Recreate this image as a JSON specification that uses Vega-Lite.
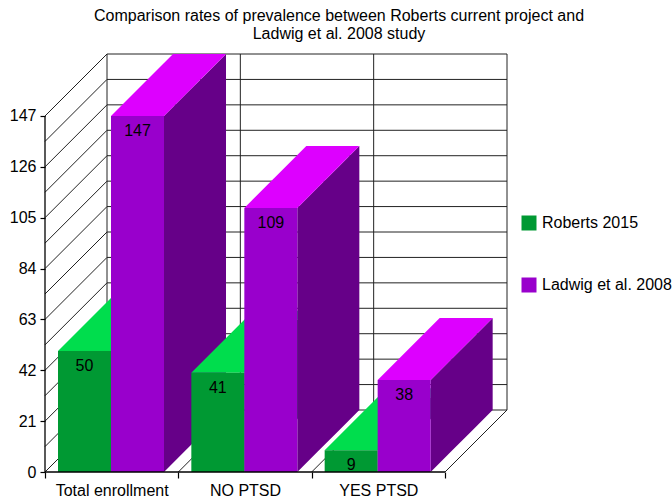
{
"$schema":"https://vega.github.io/schema/vega-lite/v6.json",
"width":462,"height":418,
"autosize":{"type":"none"},
"padding":{"left":45,"top":54,"right":165,"bottom":30},
"background":"white",
"config":{"view":{"stroke":null},"font":"Liberation Sans"},
"title":{"text":["Comparison rates of prevalence between Roberts current project and","Ladwig et al. 2008 study"],"font":"Liberation Sans","fontSize":16,"fontWeight":"normal","color":"#000000","anchor":"middle","frame":"group","dx":63,"lineHeight":18,"offset":12},
"datasets":{
"bars":[
{"category":"Total enrollment","series":"Roberts 2015","value":50},
{"category":"Total enrollment","series":"Ladwig et al. 2008","value":147},
{"category":"NO PTSD","series":"Roberts 2015","value":41},
{"category":"NO PTSD","series":"Ladwig et al. 2008","value":109},
{"category":"YES PTSD","series":"Roberts 2015","value":9},
{"category":"YES PTSD","series":"Ladwig et al. 2008","value":38}
],
"levels":[{"level":0},{"level":10.5},{"level":21},{"level":31.5},{"level":42},{"level":52.5},{"level":63},{"level":73.5},{"level":84},{"level":94.5},{"level":105},{"level":115.5},{"level":126},{"level":136.5},{"level":147}],
"slots":[{"slot":0},{"slot":1},{"slot":2},{"slot":3}]
},
"layer":[
{"data":{"name":"levels"},
"transform":[{"calculate":"datum.level+25.6","as":"wallY"}],
"mark":{"type":"rule","color":"#222222","strokeWidth":1},
"encoding":{
"x":{"datum":0,"type":"quantitative","scale":{"domain":[0,3.465],"nice":false,"zero":false},
"axis":{"title":null,"orient":"bottom","values":[0,1,2,3],"grid":false,"domain":false,"tickColor":"#000000","tickSize":6,"tickWidth":1.2,"labelFont":"Liberation Sans","labelFontSize":16,"labelColor":"#000000","labelPadding":4,"labelOffset":66.67,"labelAngle":0,"labelAlign":"center","labelFlush":false,"labelBound":false,"labelOverlap":false,"labelExpr":"['Total enrollment','NO PTSD','YES PTSD',''][datum.value]"}},
"x2":{"datum":0.465},
"y":{"field":"level","type":"quantitative","scale":{"domain":[0,172.6],"nice":false,"zero":false},
"axis":{"title":null,"values":[0,10.5,21,31.5,42,52.5,63,73.5,84,94.5,105,115.5,126,136.5,147],"grid":false,"domain":false,"tickColor":"#000000","tickSize":5,"tickWidth":1.2,"labelFont":"Liberation Sans","labelFontSize":16,"labelColor":"#000000","labelPadding":4,"labelOverlap":false,"labelExpr":"datum.value % 21 === 0 ? datum.label : ''"}},
"y2":{"field":"wallY"}
}},
{"data":{"name":"levels"},
"transform":[{"calculate":"datum.level+25.6","as":"wallY"}],
"mark":{"type":"rule","color":"#222222","strokeWidth":1},
"encoding":{
"x":{"datum":0.465,"type":"quantitative","scale":{"domain":[0,3.465],"nice":false,"zero":false}},
"x2":{"datum":3.465},
"y":{"field":"wallY","type":"quantitative","scale":{"domain":[0,172.6],"nice":false,"zero":false}}
}},
{"data":{"name":"slots"},
"transform":[{"calculate":"datum.slot+0.465","as":"backX"}],
"mark":{"type":"rule","color":"#222222","strokeWidth":1},
"encoding":{
"x":{"field":"backX","type":"quantitative","scale":{"domain":[0,3.465],"nice":false,"zero":false}},
"y":{"datum":25.6,"type":"quantitative","scale":{"domain":[0,172.6],"nice":false,"zero":false}},
"y2":{"datum":172.6}
}},
{"data":{"name":"slots"},
"transform":[{"calculate":"datum.slot+0.465","as":"backX"}],
"mark":{"type":"rule","color":"#222222","strokeWidth":1},
"encoding":{
"x":{"field":"slot","type":"quantitative","scale":{"domain":[0,3.465],"nice":false,"zero":false}},
"x2":{"field":"backX"},
"y":{"datum":0,"type":"quantitative","scale":{"domain":[0,172.6],"nice":false,"zero":false}},
"y2":{"datum":25.6}
}},
{"data":{"name":"bars"},
"transform":[
{"calculate":"indexof(['Total enrollment','NO PTSD','YES PTSD'],datum.category)+0.0975+(datum.series==='Roberts 2015'?0:0.3975)","as":"left"},
{"calculate":"['side','top','front']","as":"face"},
{"flatten":["face"]},
{"calculate":"[0,1,2,3]","as":"pt"},
{"flatten":["pt"]},
{"calculate":"datum.face==='front'?datum.left+0.3975*datum.pt/3:datum.face==='side'?datum.left+0.3975+0.465*datum.pt/3:datum.left+[0,0.3975,0.465,0.8625][datum.pt]","as":"px"},
{"calculate":"datum.face==='front'?0:datum.face==='side'?25.6*datum.pt/3:datum.value+[0,0,3.716,25.6][datum.pt]","as":"low"},
{"calculate":"datum.face==='front'?datum.value:datum.face==='side'?datum.value+25.6*datum.pt/3:datum.value+[0,21.884,25.6,25.6][datum.pt]","as":"high"},
{"calculate":"datum.face==='front'?datum.series:datum.series+' '+datum.face","as":"shade"},
{"calculate":"datum.category+'|'+datum.series+'|'+datum.face","as":"key"}
],
"mark":{"type":"area","interpolate":"linear","opacity":1,"line":false},
"encoding":{
"x":{"field":"px","type":"quantitative","scale":{"domain":[0,3.465],"nice":false,"zero":false}},
"y":{"field":"high","type":"quantitative","stack":null,"scale":{"domain":[0,172.6],"nice":false,"zero":false}},
"y2":{"field":"low"},
"detail":{"field":"key"},
"color":{"field":"shade","type":"nominal",
"scale":{"domain":["Roberts 2015","Ladwig et al. 2008","Roberts 2015 top","Ladwig et al. 2008 top","Roberts 2015 side","Ladwig et al. 2008 side"],"range":["#009933","#9900CC","#00DD4D","#DD00FF","#006622","#660088"]},
"legend":{"values":["Roberts 2015","Ladwig et al. 2008"],"title":null,"orient":"none","legendX":476,"legendY":161,"symbolType":"square","symbolSize":225,"symbolStrokeWidth":0,"labelFont":"Liberation Sans","labelFontSize":16,"labelColor":"#000000","labelLimit":200,"labelOffset":5,"rowPadding":46,"padding":0}}
}},
{"data":{"name":"bars"},
"transform":[
{"calculate":"indexof(['Total enrollment','NO PTSD','YES PTSD'],datum.category)+0.0975+(datum.series==='Roberts 2015'?0:0.3975)+0.19875","as":"mid"}
],
"mark":{"type":"text","font":"Liberation Sans","fontSize":16,"color":"#000000","baseline":"middle","align":"center","dy":15},
"encoding":{
"x":{"field":"mid","type":"quantitative","scale":{"domain":[0,3.465],"nice":false,"zero":false}},
"y":{"field":"value","type":"quantitative","scale":{"domain":[0,172.6],"nice":false,"zero":false}},
"text":{"field":"value","type":"quantitative"}
}},
{"mark":{"type":"rule","color":"#000000","strokeWidth":1.3},
"data":{"values":[{"axis":"y"}]},
"encoding":{
"x":{"datum":0,"type":"quantitative","scale":{"domain":[0,3.465],"nice":false,"zero":false}},
"y":{"datum":0,"type":"quantitative","scale":{"domain":[0,172.6],"nice":false,"zero":false}},
"y2":{"datum":147}
}},
{"mark":{"type":"rule","color":"#000000","strokeWidth":1.3},
"data":{"values":[{"axis":"x"}]},
"encoding":{
"x":{"datum":0,"type":"quantitative","scale":{"domain":[0,3.465],"nice":false,"zero":false}},
"x2":{"datum":3},
"y":{"datum":0,"type":"quantitative","scale":{"domain":[0,172.6],"nice":false,"zero":false}}
}}
]
}
